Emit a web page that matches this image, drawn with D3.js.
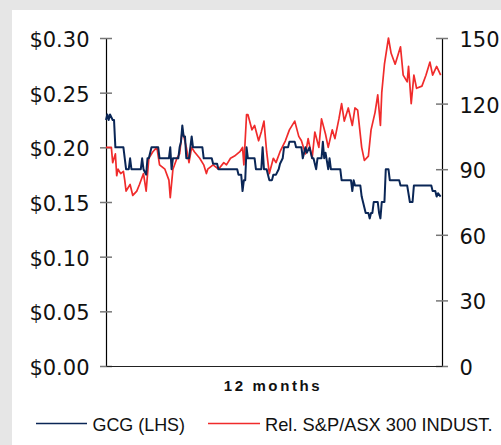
<!DOCTYPE html>
<html>
<head>
<meta charset="utf-8">
<script src="https://cdn.jsdelivr.net/npm/d3@7"></script>
<style>
  html, body { margin: 0; padding: 0; background: #e6e6e6; }
  svg { display: block; }
</style>
</head>
<body>
<svg id="chart" width="501" height="445"></svg>
<script>
// GCG share price (LHS, $) by trading day over 12 months
const gcgDay = [0,1,2,3,5,6,7,13,15,17,18,19,26,27,28,30,31,32,34,39,40,47,48,49,50,54,55,56,57,58,59,60,62,63,64,65,72,73,79,80,83,84,98,99,101,102,103,104,105,106,111,112,116,117,118,120,121,122,124,125,127,129,130,132,133,136,137,141,142,146,147,149,150,152,154,155,157,158,161,162,163,164,166,167,168,175,176,183,184,185,186,190,191,192,193,194,196,197,198,199,200,203,204,205,206,208,209,211,212,219,220,225,227,229,230,243,244,246,247,248,250];
const gcgPrice = [0.225,0.23,0.225,0.23,0.225,0.225,0.20,0.20,0.18,0.18,0.19,0.18,0.18,0.19,0.18,0.175,0.19,0.19,0.20,0.20,0.19,0.19,0.20,0.18,0.19,0.19,0.20,0.205,0.22,0.21,0.21,0.19,0.19,0.20,0.21,0.20,0.20,0.19,0.19,0.185,0.185,0.18,0.18,0.175,0.175,0.16,0.17,0.17,0.20,0.19,0.19,0.18,0.18,0.20,0.18,0.18,0.175,0.17,0.17,0.175,0.175,0.18,0.185,0.19,0.20,0.20,0.205,0.205,0.20,0.20,0.19,0.20,0.195,0.20,0.19,0.19,0.18,0.19,0.19,0.205,0.19,0.195,0.18,0.19,0.18,0.18,0.17,0.17,0.16,0.17,0.165,0.165,0.155,0.15,0.145,0.14,0.14,0.135,0.14,0.14,0.15,0.15,0.14,0.135,0.15,0.15,0.18,0.18,0.17,0.17,0.165,0.165,0.15,0.15,0.165,0.165,0.16,0.16,0.155,0.158,0.155];

// Relative S&P/ASX 300 Industrials index (RHS, rebased to 100)
const relDay = [0,4,5,7,8,9,11,13,14,15,18,20,23,25,28,30,32,35,38,40,44,47,48,50,53,55,57,60,62,64,66,70,73,75,76,80,84,88,90,93,96,100,102,103,105,106,109,111,114,116,118,120,122,125,127,130,134,137,141,144,146,149,151,154,156,159,161,164,166,169,171,174,176,178,181,184,186,188,191,193,196,198,201,203,205,206,208,211,213,216,218,220,222,225,226,228,230,232,236,239,242,244,247,250];
const relIndex = [100,100,93,97,87,90,88,89,85,80,83,78,80,83,88,80,95,98,100,92,90,85,77,90,95,97,108,100,93,100,98,95,92,88,90,92,90,93,92,95,96,98,100,92,115,115,108,110,103,107,112,98,88,95,93,98,103,108,112,105,103,97,104,95,107,100,113,106,100,108,104,113,120,112,118,110,118,117,100,94,96,108,116,124,110,125,138,150,143,138,142,146,133,130,137,120,133,127,128,133,139,133,137,133];

const leftTicks = [0, 0.05, 0.10, 0.15, 0.20, 0.25, 0.30];
const rightTicks = [0, 30, 60, 90, 120, 150];
const xLabel = "12 months";
const seriesNames = ["GCG (LHS)", "Rel. S&P/ASX 300 INDUST."];
const seriesColors = ["#0a2656", "#f02b2b"];

const svg = d3.select("#chart");
const plot = { left: 106, right: 442, top: 38, bottom: 366 };

// white panel
svg.append("rect").attr("x", 12).attr("y", 10).attr("width", 489).attr("height", 435).attr("fill", "#ffffff");

const x = d3.scaleLinear().domain([0, 251]).range([plot.left, plot.right]);
const yL = d3.scaleLinear().domain([0, 0.30]).range([plot.bottom, plot.top]);
const yR = d3.scaleLinear().domain([0, 150]).range([plot.bottom, plot.top]);

const tickFont = "'DejaVu Sans', Verdana, sans-serif";

// left axis
const gL = svg.append("g").attr("transform", `translate(${plot.left},0)`)
  .call(d3.axisLeft(yL).tickValues(leftTicks).tickSizeOuter(0).tickSize(6).tickPadding(10.5)
    .tickFormat(d => "$" + d3.format(".2f")(d)));
gL.select(".domain").attr("stroke", "#000").attr("stroke-width", 1.2);
gL.selectAll(".tick line").attr("x1", 6).attr("x2", -6).attr("stroke", "#777").attr("stroke-width", 1.5);
gL.selectAll(".tick text").attr("font-family", tickFont).attr("font-size", 21).attr("fill", "#111").attr("dy", "0.4em");

// right axis
const gR = svg.append("g").attr("transform", `translate(${plot.right},0)`)
  .call(d3.axisRight(yR).tickValues(rightTicks).tickSizeOuter(0).tickSize(6).tickPadding(11.5));
gR.select(".domain").attr("stroke", "#000").attr("stroke-width", 1.2);
gR.selectAll(".tick line").attr("x1", -6).attr("x2", 6).attr("stroke", "#777").attr("stroke-width", 1.5);
gR.selectAll(".tick text").attr("font-family", tickFont).attr("font-size", 21).attr("fill", "#111").attr("dy", "0.4em");

// bottom axis line
const gB = svg.append("g").attr("transform", `translate(0,${plot.bottom})`)
  .call(d3.axisBottom(x).tickValues([]).tickSizeOuter(0));
gB.select(".domain").attr("stroke", "#222").attr("stroke-width", 1.2);

// x axis title
svg.append("text")
  .attr("x", (plot.left + plot.right) / 2 - 1)
  .attr("y", 391)
  .attr("text-anchor", "middle")
  .attr("font-family", "'Liberation Sans', Arial, sans-serif")
  .attr("font-weight", "bold")
  .attr("font-size", 15)
  .attr("letter-spacing", "2.6px")
  .attr("fill", "#111")
  .text(xLabel);

// series lines
const lineL = d3.line().x(d => x(d[0])).y(d => yL(d[1]));
const lineR = d3.line().x(d => x(d[0])).y(d => yR(d[1]));

svg.append("path")
  .datum(relDay.map((d, i) => [d, relIndex[i]]))
  .attr("d", lineR)
  .attr("fill", "none")
  .attr("stroke", seriesColors[1])
  .attr("stroke-width", 1.7)
  .attr("stroke-linejoin", "round");

svg.append("path")
  .datum(gcgDay.map((d, i) => [d, gcgPrice[i]]))
  .attr("d", lineL)
  .attr("fill", "none")
  .attr("stroke", seriesColors[0])
  .attr("stroke-width", 2)
  .attr("stroke-linejoin", "round");

// legend
const legendItems = [
  { x1: 36, x2: 87, tx: 92.5, w: 92.5 },
  { x1: 208, x2: 260, tx: 265, w: 227.5 }
];
legendItems.forEach((it, i) => {
  svg.append("line")
    .attr("x1", it.x1).attr("x2", it.x2).attr("y1", 423.5).attr("y2", 423.5)
    .attr("stroke", seriesColors[i]).attr("stroke-width", 1.5);
  svg.append("text")
    .attr("x", it.tx).attr("y", 430.5)
    .attr("font-family", "'Liberation Sans', Arial, sans-serif")
    .attr("font-size", 19)
    .attr("textLength", it.w)
    .attr("lengthAdjust", "spacingAndGlyphs")
    .attr("fill", "#111")
    .text(seriesNames[i]);
});
</script>
</body>
</html>
